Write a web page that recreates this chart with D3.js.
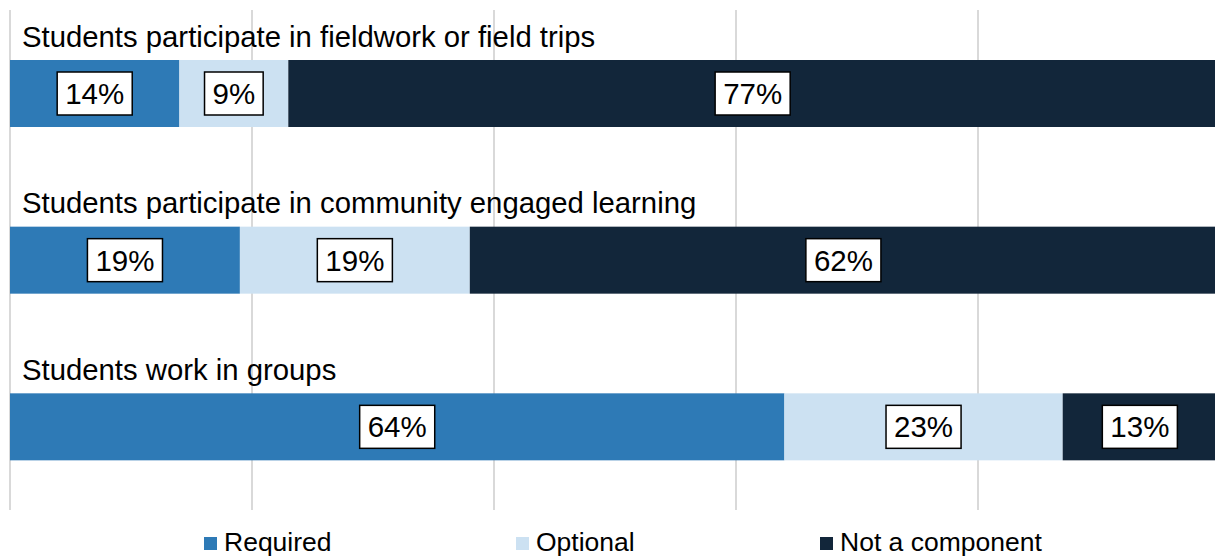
<!DOCTYPE html>
<html>
<head>
<meta charset="utf-8">
<script src="https://cdn.jsdelivr.net/npm/d3@7"></script>
<style>
  html, body { margin: 0; padding: 0; background: #fff; }
  svg { display: block; }
  text { font-family: "Liberation Sans", Arial, sans-serif; }
</style>
</head>
<body>
<svg id="chart" width="1215" height="557"></svg>
<script>
// Survey items, top to bottom
const categories = [
  "Students participate in fieldwork or field trips",
  "Students participate in community engaged learning",
  "Students work in groups"
];
const seriesNames = ["Required", "Optional", "Not a component"];
const required     = [14, 19, 64];
const optional     = [9, 19, 23];
const notComponent = [77, 62, 13];
const xTicks = [0, 20, 40, 60, 80, 100];

const colors = ["#2E7AB6", "#CCE1F2", "#12263A"];

const svg = d3.select("#chart");

const x = d3.scaleLinear().domain([0, 100]).range([10, 1220]);
const band = d3.scaleBand().domain(categories).range([10, 510]).paddingInner(0).paddingOuter(0);

// Vertical gridlines
svg.append("g")
  .selectAll("line")
  .data(xTicks)
  .join("line")
  .attr("x1", d => x(d)).attr("x2", d => x(d))
  .attr("y1", 10).attr("y2", 510)
  .attr("stroke", "#d9d9d9")
  .attr("stroke-width", 2);

const rows = categories.map((c, i) => ({
  cat: c,
  values: [required[i], optional[i], notComponent[i]]
}));

const barH = 67;
const barOffset = 50; // from band top to bar top
const visibleRight = 1215; // plot is clipped at the right edge of the canvas

rows.forEach((r) => {
  const y0 = band(r.cat);
  const g = svg.append("g");

  // Category title above the bar
  g.append("text")
    .attr("x", 22)
    .attr("y", y0 + 36.5)
    .attr("font-size", 29.3)
    .attr("fill", "#000")
    .text(r.cat);

  let acc = 0;
  const segs = r.values.map((v, k) => {
    const s = { v, k, start: acc, end: acc + v };
    acc += v;
    return s;
  });

  g.selectAll("rect.seg")
    .data(segs)
    .join("rect")
    .attr("class", "seg")
    .attr("x", d => x(d.start))
    .attr("width", d => x(d.end) - x(d.start))
    .attr("y", y0 + barOffset)
    .attr("height", barH)
    .attr("fill", d => colors[d.k]);

  // Value labels in white boxes, centred on the visible part of each segment
  const lab = g.selectAll("g.lab")
    .data(segs)
    .join("g")
    .attr("class", "lab")
    .attr("transform", d => `translate(${(x(d.start) + Math.min(x(d.end), visibleRight + 2)) / 2},${y0 + barOffset + barH / 2})`);

  lab.each(function(d) {
    const gl = d3.select(this);
    const t = gl.append("text")
      .attr("text-anchor", "middle")
      .attr("dy", "0.36em")
      .attr("font-size", 29.5)
      .attr("fill", "#000")
      .text(d.v + "%");
    const w = t.node().getComputedTextLength() + 16;
    gl.insert("rect", "text")
      .attr("x", -w / 2)
      .attr("y", -21.5)
      .attr("width", w)
      .attr("height", 43)
      .attr("fill", "#fff")
      .attr("stroke", "#000")
      .attr("stroke-width", 1.5);
  });
});

// Legend
const legendX = [204, 516, 820];
const lg = svg.append("g");
seriesNames.forEach((name, k) => {
  lg.append("rect")
    .attr("x", legendX[k])
    .attr("y", 537)
    .attr("width", 13)
    .attr("height", 13)
    .attr("fill", colors[k]);
  lg.append("text")
    .attr("x", legendX[k] + 20)
    .attr("y", 551)
    .attr("font-size", 26.5)
    .attr("fill", "#000")
    .text(name);
});
</script>
</body>
</html>
